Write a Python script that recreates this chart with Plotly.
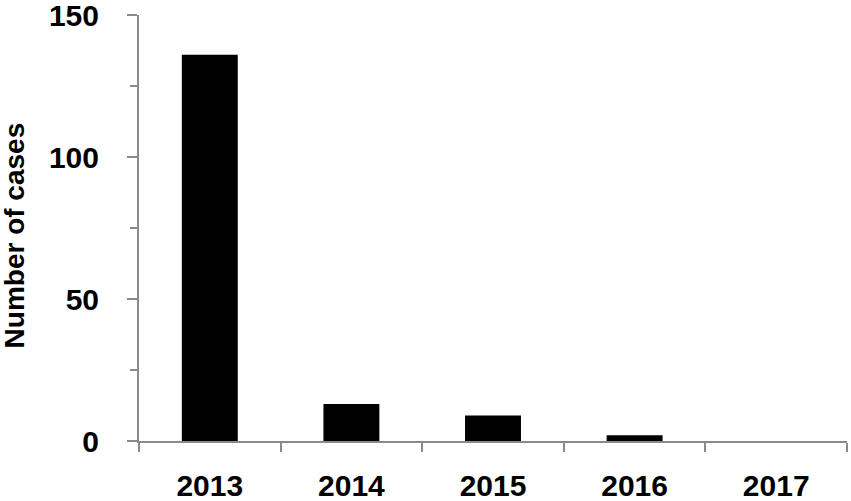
import plotly.graph_objects as go

years = ["2013", "2014", "2015", "2016", "2017"]
cases = [136, 13, 9, 2, 0]
y_ticks = [0, 50, 100, 150]
y_title = "Number of cases"

axis_color = "#8a8a8a"
font_family = "Liberation Sans, Arial, sans-serif"

fig = go.Figure(
    go.Bar(x=years, y=cases, marker=dict(color="#000000", line=dict(width=0)), width=0.395)
)

fig.update_layout(
    width=851, height=501,
    margin=dict(l=139, r=4, t=15, b=60, autoexpand=False),
    paper_bgcolor="white", plot_bgcolor="white",
    font=dict(family=font_family, color="black", weight="bold"),
    showlegend=False,
)

fig.update_xaxes(
    type="category",
    showline=True, linecolor=axis_color, linewidth=2,
    ticks="outside", tickson="boundaries", ticklen=9, tickwidth=2, tickcolor=axis_color,
    tickfont=dict(size=30, family=font_family, color="black", weight="bold"),
    ticklabelstandoff=17,
    showgrid=False, zeroline=False,
)

fig.update_yaxes(
    range=[0, 150.02],
    tickvals=y_ticks, ticktext=[str(v) for v in y_ticks],
    showline=True, linecolor=axis_color, linewidth=2,
    ticks="outside", ticklen=10, tickwidth=2, tickcolor=axis_color,
    minor=dict(tickvals=[25, 75, 125], ticks="outside", ticklen=7, tickwidth=2, tickcolor=axis_color),
    tickfont=dict(size=30, family=font_family, color="black", weight="bold"),
    ticklabelstandoff=22, ticklabeloverflow="allow",
    showgrid=False, zeroline=False,
)

fig.add_annotation(
    text=y_title, textangle=-90, showarrow=False,
    xref="paper", yref="paper", x=-0.1745, y=0.4836,
    xanchor="center", yanchor="middle",
    font=dict(size=28, family=font_family, color="black", weight="bold"),
)

fig.write_html(
    "out.html",
    config={"displayModeBar": False},
    post_script="document.body.style.margin='0';document.body.style.overflow='hidden';",
)
